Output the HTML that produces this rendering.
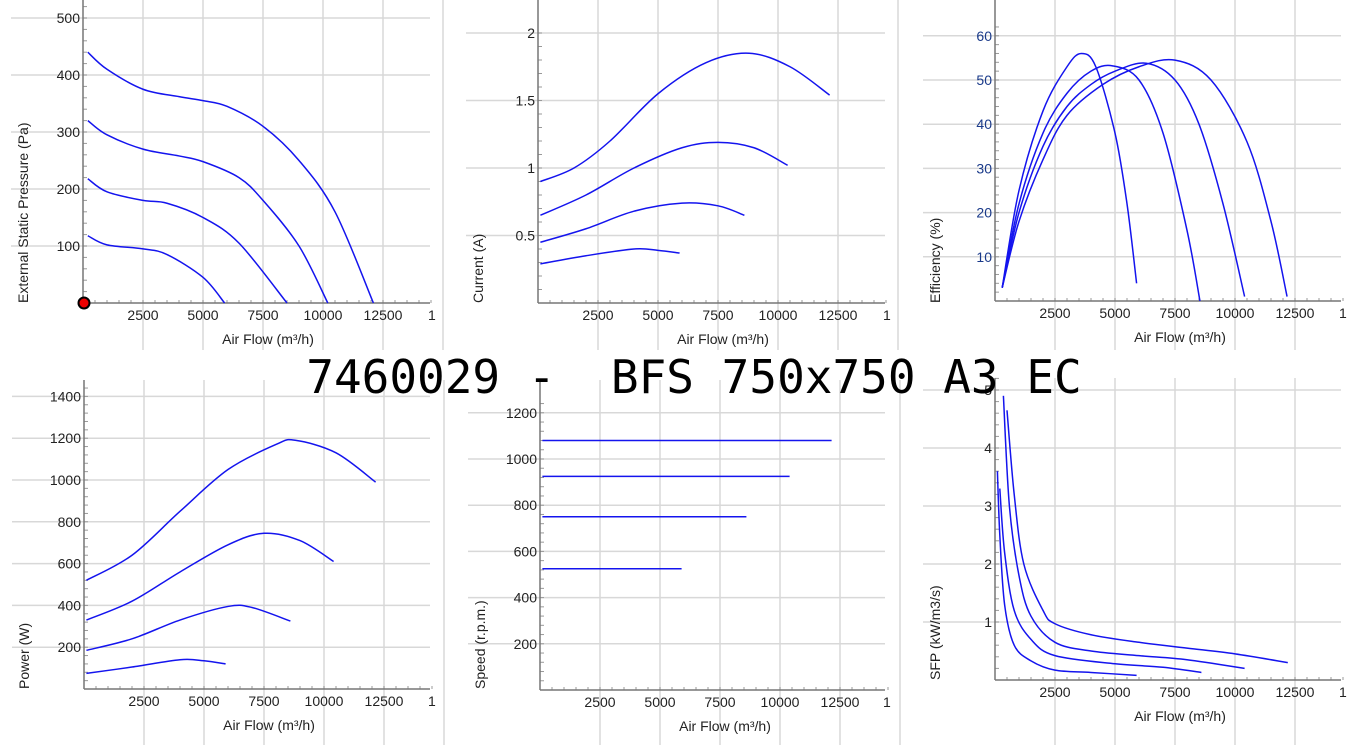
<!DOCTYPE html>
<html><head><meta charset="utf-8"><style>
body{margin:0;background:#fff;width:1349px;height:745px;overflow:hidden;font-family:"Liberation Sans",sans-serif}
svg{position:absolute;left:0;top:0}
</style></head><body>
<svg id="s" width="1349" height="745"></svg>
<script>
const flowTicks=[2500,5000,7500,10000,12500];
const pressureTicks=[100,200,300,400,500];
const currentTicks=[0.5,1,1.5,2];
const effTicks=[10,20,30,40,50,60];
const powerTicks=[200,400,600,800,1000,1200,1400];
const speedTicks=[200,400,600,800,1000,1200];
const sfpTicks=[1,2,3,4,5];
const pressure1=[[200,118],[1000,102],[2500,95],[3500,85],[5000,45],[5900,0]];
const pressure2=[[200,218],[1000,195],[2500,180],[3500,175],[5000,150],[6500,105],[8500,0]];
const pressure3=[[200,320],[1000,295],[2500,270],[4000,258],[5000,248],[6500,220],[7500,180],[9000,100],[10200,0]];
const pressure4=[[200,440],[1000,410],[2500,375],[4000,362],[5000,355],[6000,345],[7500,310],[9000,250],[10500,160],[12100,0]];
const current1=[[100,0.29],[2000,0.35],[4000,0.40],[5000,0.39],[5900,0.37]];
const current2=[[100,0.45],[2000,0.55],[4000,0.68],[6000,0.74],[7500,0.72],[8600,0.65]];
const current3=[[100,0.65],[2000,0.8],[4000,1.0],[6000,1.15],[7500,1.19],[9000,1.15],[10400,1.02]];
const current4=[[100,0.9],[1500,1.0],[3000,1.2],[5000,1.55],[7000,1.78],[8800,1.85],[10500,1.75],[12150,1.54]];
const eff1=[[300,3],[1000,25],[2000,43],[3000,53],[3600,56],[4200,53],[5000,38],[5500,22],[5900,4]];
const eff2=[[300,3],[1000,22],[2000,38],[3000,47],[4000,52],[4900,53.2],[6000,50],[7000,38],[8000,16],[8540,0]];
const eff3=[[300,3],[1000,20],[2000,35],[3000,44],[4000,49],[5000,52],[6300,53.8],[7500,50],[8500,40],[9500,22],[10400,1]];
const eff4=[[300,3],[1000,18],[2000,32],[3000,42],[4500,49],[6000,53],[7500,54.5],[9000,50],[10500,36],[11500,18],[12170,1]];
const power1=[[100,75],[2000,105],[4000,140],[5000,135],[5900,120]];
const power2=[[100,185],[2000,240],[4000,330],[6000,395],[7000,390],[8600,325]];
const power3=[[100,330],[2000,420],[4000,560],[6000,690],[7500,745],[9000,710],[10400,610]];
const power4=[[100,520],[2000,640],[4000,850],[6000,1050],[8000,1170],[8800,1190],[10500,1130],[12150,990]];
const speed1=[[100,525],[5900,525]];
const speed2=[[100,750],[8600,750]];
const speed3=[[100,925],[10400,925]];
const speed4=[[100,1080],[12150,1080]];
const sfp1=[[100,3.6],[200,2.5],[400,1.3],[800,0.6],[1500,0.33],[2500,0.17],[4000,0.13],[5900,0.08]];
const sfp2=[[200,3.3],[400,2.2],[800,1.2],[1500,0.7],[2500,0.42],[5000,0.28],[7000,0.22],[8600,0.13]];
const sfp3=[[350,4.9],[600,3.0],[1000,1.8],[1500,1.1],[2500,0.65],[4000,0.5],[6000,0.42],[8000,0.35],[10400,0.2]];
const sfp4=[[500,4.65],[800,3.2],[1200,2.0],[2000,1.2],[2500,0.97],[4000,0.78],[6000,0.65],[8000,0.55],[10000,0.45],[12200,0.3]];

const S=document.getElementById('s');const NS='http://www.w3.org/2000/svg';
function mk(t,a,p){const e=document.createElementNS(NS,t);for(const k in a)e.setAttribute(k,a[k]);(p||S).appendChild(e);return e;}
function smooth(pts){let d='M'+pts[0][0]+' '+pts[0][1];for(let i=0;i<pts.length-1;i++){const p0=pts[Math.max(0,i-1)],p1=pts[i],p2=pts[i+1],p3=pts[Math.min(pts.length-1,i+2)];d+=' C'+(p1[0]+(p2[0]-p0[0])/6)+' '+(p1[1]+(p2[1]-p0[1])/6)+' '+(p2[0]-(p3[0]-p1[0])/6)+' '+(p2[1]-(p3[1]-p1[1])/6)+' '+p2[0]+' '+p2[1];}return d;}
function chart(c){
 const g=mk('g',{});
 
 
 const X=v=>c.x0+v*60/2500, Y=v=>c.y0-v*c.ky;
 // vertical grid
 flowTicks.concat([15000]).forEach(t=>{const l=mk('line',{x1:X(t),x2:X(t),y1:c.top,y2:c.bot,stroke:'#d8d8d8','stroke-width':1.5},g);});
 c.yt.forEach(t=>{const l=mk('line',{x1:c.x0-72,x2:c.right,y1:Y(t),y2:Y(t),stroke:'#d8d8d8','stroke-width':1.5},g);
  const tx=mk('text',{x:c.x0-3,y:Y(t)+5,'text-anchor':'end','font-size':14,fill:c.ycol||'#222'},g);tx.textContent=t;});
 for(let v=0;v<15000;v+=500){mk('line',{x1:X(v),x2:X(v),y1:c.y0-3,y2:c.y0,stroke:'#999'},g);}
 for(let k=0;k<c.yt[c.yt.length-1]*1.05;k+=c.minor){mk('line',{x1:c.x0,x2:c.x0+4,y1:Y(k),y2:Y(k),stroke:'#999'},g);}
 mk('line',{x1:c.x0,x2:c.x0,y1:c.top,y2:c.y0,stroke:'#777','stroke-width':1.5},g);
 mk('line',{x1:c.x0,x2:c.right,y1:c.y0,y2:c.y0,stroke:'#777','stroke-width':1.5},g);
 flowTicks.forEach(t=>{const tx=mk('text',{x:X(t),y:c.y0+17,'text-anchor':'middle','font-size':14,fill:'#222'},g);tx.textContent=t;});
 const t1=mk('text',{x:c.right-2,y:c.y0+17,'font-size':14,fill:'#222'},g);t1.textContent='1';
 const xt=mk('text',{x:c.x0+185,y:c.y0+41,'text-anchor':'middle','font-size':14,fill:'#222'},g);xt.textContent='Air Flow (m³/h)';
 const yt=mk('text',{transform:'translate('+(c.x0-55)+','+c.yty+') rotate(-90)','font-size':14,fill:'#222'},g);yt.textContent=c.ytitle;
 c.series.forEach((s,i)=>{const p=mk('path',{d:smooth(s.map(q=>[X(q[0]),Y(q[1])])),fill:'none',stroke:'#1414ee','stroke-width':1.5},g);});
 return g;
}
chart({name:'pressure-chart',x0:83,y0:303,ky:0.57,top:0,bot:350,right:430,yt:pressureTicks,minor:20,ytitle:'External Static Pressure (Pa)',yty:303,series:[pressure1,pressure2,pressure3,pressure4]});
chart({name:'current-chart',x0:538,y0:303,ky:135,top:0,bot:350,right:885,yt:currentTicks,minor:0.1,ytitle:'Current (A)',yty:303,series:[current1,current2,current3,current4]});
chart({name:'efficiency-chart',x0:995,y0:301,ky:4.42,top:0,bot:350,right:1341,yt:effTicks,minor:2,ycol:'#1a3a8a',ytitle:'Efficiency (%)',yty:303,series:[eff1,eff2,eff3,eff4]});
chart({name:'power-chart',x0:84,y0:689,ky:0.209,top:380,bot:745,right:430,yt:powerTicks,minor:40,ytitle:'Power (W)',yty:689,series:[power1,power2,power3,power4]});
chart({name:'speed-chart',x0:540,y0:690,ky:0.231,top:380,bot:745,right:885,yt:speedTicks,minor:40,ytitle:'Speed (r.p.m.)',yty:689,series:[speed1,speed2,speed3,speed4]});
chart({name:'sfp-chart',x0:995,y0:680,ky:58,top:378,bot:745,right:1341,yt:sfpTicks,minor:0.2,ytitle:'SFP (kW/m3/s)',yty:680,series:[sfp1,sfp2,sfp3,sfp4]});
const dot=mk('circle',{cx:84,cy:303,r:5.5,fill:'#e00',stroke:'#000','stroke-width':2});


const title=mk('text',{x:694,y:393,'text-anchor':'middle','font-size':46,'font-family':'"DejaVu Sans Mono","Liberation Mono",monospace',fill:'#000','xml:space':'preserve'});
title.style.whiteSpace='pre';
title.textContent='7460029 -  BFS 750x750 A3 EC';


</script>
</body></html>
